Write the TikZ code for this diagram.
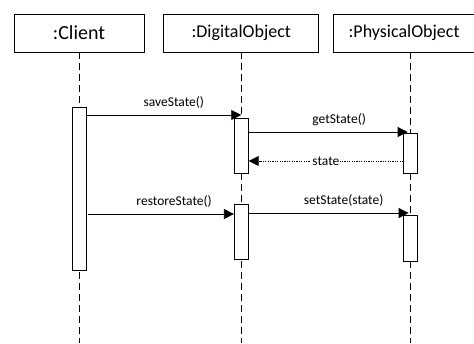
\documentclass[tikz,border=0pt]{standalone}
\usepackage{fontspec}
\setmainfont{Carlito}
\usetikzlibrary{arrows.meta, calc, positioning}

\begin{document}
\begin{tikzpicture}[x=1pt, y=-1pt, line width=0.8pt,
                every node/.style={inner sep=0pt},
                head/.style={draw, minimum height=38pt, font=\fontsize{18}{20}\selectfont},
                act/.style={draw, fill=white, minimum width=14pt, anchor=north},
                lifeline/.style={dash pattern=on 7pt off 4pt},
                msg/.style={-{Triangle[length=10pt,width=10pt]}},
                ret/.style={dash pattern=on 1.2pt off 1.2pt, -{Triangle[length=10pt,width=10pt]}},
                lbl/.style={font=\fontsize{13.5}{15}\selectfont}]
                \useasboundingbox (0,0) rectangle (474,343);
                % object heads
                \node[head, minimum width=130pt, font=\fontsize{20}{22}\selectfont] (client) at (79,33) {:Client};
                \node[head, minimum width=155pt, right=19pt of client] (digital) {:DigitalObject};
                \node[head, minimum width=141pt, right=14pt of digital] (physical) {:PhysicalObject};
                % lifelines
                \coordinate (lc) at (client.south);
                \coordinate (ld) at (digital.south);
                \coordinate (lp) at ($(physical.south)+(6.5,0)$);
                \draw[lifeline] (lc) -- (lc |- 0,343);
                \draw[lifeline] (ld) -- (ld |- 0,343);
                \draw[lifeline] (lp) -- (lp |- 0,343);
                % activations
                \node[act, minimum height=163pt] (actC)  at (lc |- 0,107) {};
                \node[act, minimum height=55pt]  (actD1) at (ld |- 0,118) {};
                \node[act, minimum height=55pt]  (actD2) at (ld |- 0,204) {};
                \node[act, minimum height=40pt]  (actP1) at (lp |- 0,133) {};
                \node[act, minimum height=46pt]  (actP2) at (lp |- 0,215) {};
                % messages
                \draw[msg] (actC.east |- 0,115) -- node[lbl, above=6pt, xshift=10pt] (saveLbl) {saveState()} (ld |- 0,115);
                \draw[msg] (actD1.east |- 0,132) -- node[lbl, above=6pt, xshift=11pt] (getLbl) {getState()} ($(lp |- 0,132)+(-3,0)$);
                \draw[ret] (actP1.west |- 0,161) -- node[lbl, fill=white, inner sep=1pt] (stateLbl) {state} (actD1.east |- 0,161);
                \draw[msg] ($(actC.east |- 0,214)+(2,0)$) -- node[lbl, above=6pt, xshift=13pt] (restoreLbl) {restoreState()} (actD2.west |- 0,214);
                \draw[msg] (actD2.east |- 0,213) -- node[lbl, above=6pt, xshift=15pt] (setLbl) {setState(state)} ($(lp |- 0,213)+(-2,0)$);
            \end{tikzpicture}
\end{document}
